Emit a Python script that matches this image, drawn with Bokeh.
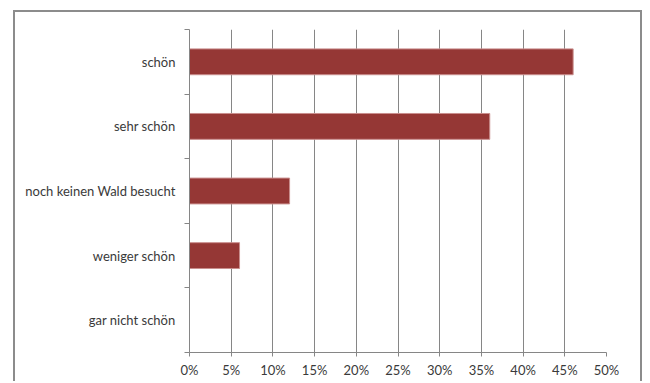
from bokeh.plotting import figure
from bokeh.layouts import row, column
from bokeh.models import ColumnDataSource, FixedTicker, PrintfTickFormatter, Range1d, Spacer
from bokeh.embed import file_html
from bokeh.resources import INLINE

# Data (top to bottom as shown)
categories = ["schön", "sehr schön", "noch keinen Wald besucht", "weniger schön", "gar nicht schön"]
values = [46, 36, 12, 6, 0]
x_ticks = [0, 5, 10, 15, 20, 25, 30, 35, 40, 45, 50]

n = len(categories)
ypos = [n - i for i in range(n)]  # schön at top
src = ColumnDataSource(dict(y=ypos, v=values, cat=categories))

FONT = "Lato"
TXT = "#3a3a3a"

p = figure(width=629, height=371, output_backend="svg", toolbar_location=None,
           x_range=Range1d(0, 50), y_range=Range1d(0.5, n + 0.5),
           min_border_left=174, min_border_right=38, min_border_top=17, min_border_bottom=31)
p.styles = {"border-top": "2px solid #8c8c8c", "border-left": "2px solid #8c8c8c",
            "border-right": "2px solid #8c8c8c"}
p.outline_line_color = None
p.background_fill_color = "white"
p.border_fill_color = "white"

p.hbar(y="y", right="v", left=0, height=0.4, source=src,
       fill_color="#953735", line_color="#c98e8d", line_width=1)

# x axis
p.xaxis.ticker = FixedTicker(ticks=x_ticks)
p.xaxis.formatter = PrintfTickFormatter(format="%d%%")
p.xaxis.axis_line_color = "#868686"
p.xaxis.major_tick_line_color = "#868686"
p.xaxis.major_tick_out = 4
p.xaxis.major_tick_in = 0
p.xaxis.minor_tick_line_color = None
p.xaxis.major_label_text_font = FONT
p.xaxis.major_label_text_font_size = "13px"
p.xaxis.major_label_text_color = TXT
p.xaxis.major_label_standoff = 5

# y axis: labels at category centres, ticks at category boundaries
boundaries = [i + 0.5 for i in range(n + 1)]
p.yaxis.ticker = FixedTicker(ticks=ypos, minor_ticks=boundaries)
p.yaxis.major_label_overrides = {y: c for y, c in zip(ypos, categories)}
p.yaxis.major_tick_line_color = None
p.yaxis.minor_tick_line_color = "#868686"
p.yaxis.minor_tick_out = 5
p.yaxis.minor_tick_in = 0
p.yaxis.axis_line_color = "#868686"
p.yaxis.major_label_text_font = FONT
p.yaxis.major_label_text_font_size = "13px"
p.yaxis.major_label_text_color = TXT
p.yaxis.major_label_standoff = 8

p.xgrid.grid_line_color = "#868686"
p.xgrid.grid_line_width = 1
p.ygrid.grid_line_color = None

layout = row(Spacer(width=13), column(Spacer(height=10), p, spacing=0), spacing=0)

open("out.html", "w").write(file_html(layout, INLINE))
